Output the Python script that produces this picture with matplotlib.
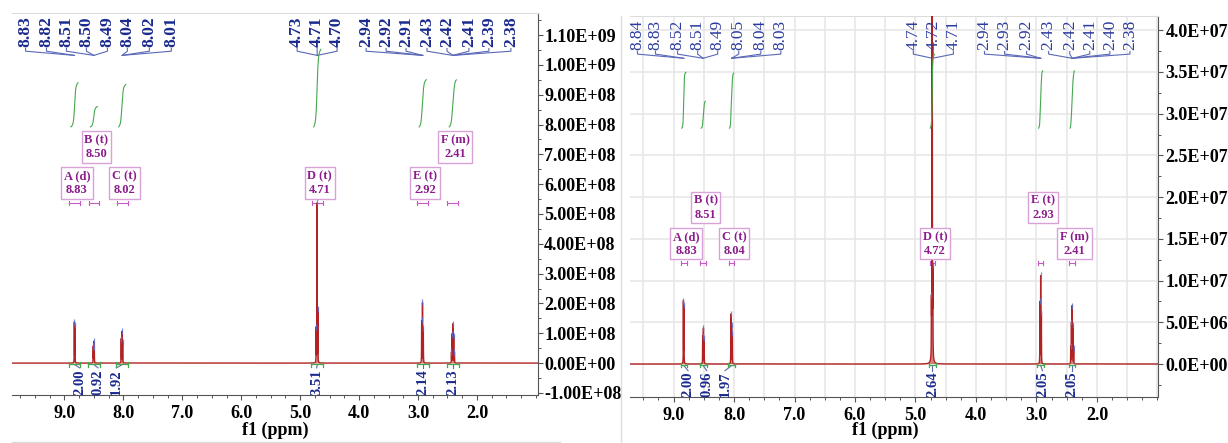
import numpy as np
import matplotlib
matplotlib.use('Agg')
import matplotlib.pyplot as plt
from matplotlib.lines import Line2D
from matplotlib.ticker import MultipleLocator, FuncFormatter
from matplotlib.transforms import blended_transform_factory

# ---------------- data ----------------
group_names = ['A', 'B', 'C', 'D', 'E', 'F']
group_mult = ['d', 't', 't', 't', 't', 'm']
x_ticks = [9.0, 8.0, 7.0, 6.0, 5.0, 4.0, 3.0, 2.0]

# left spectrum
left_centers = [8.83, 8.50, 8.02, 4.71, 2.92, 2.41]
left_center_labels = ['8.83', '8.50', '8.02', '4.71', '2.92', '2.41']
left_peak_ppm = [[8.832, 8.822], [8.511, 8.502, 8.493], [8.036, 8.024, 8.012],
                 [4.728, 4.714, 4.700], [2.938, 2.924, 2.910],
                 [2.432, 2.420, 2.410, 2.394, 2.382]]
left_peak_height = [[1.35e8, 1.25e8], [0.55e8, 0.70e8, 0.50e8], [0.80e8, 1.04e8, 0.70e8],
                    [1.15e8, 5.35e8, 1.75e8], [1.40e8, 2.00e8, 1.15e8],
                    [0.35e8, 0.95e8, 1.28e8, 0.90e8, 0.35e8]]
left_peak_labels = [['8.83', '8.82'], ['8.51', '8.50', '8.49'], ['8.04', '8.02', '8.01'],
                    ['4.73', '4.71', '4.70'], ['2.94', '2.92', '2.91'],
                    ['2.43', '2.42', '2.41', '2.39', '2.38']]
left_integrals = [2.00, 0.92, 1.92, 3.51, 2.14, 2.13]
left_yticks = [-1e8, 0, 1e8, 2e8, 3e8, 4e8, 5e8, 6e8, 7e8, 8e8, 9e8, 1e9, 1.1e9]

# right spectrum
right_centers = [8.83, 8.51, 8.04, 4.72, 2.93, 2.41]
right_center_labels = ['8.83', '8.51', '8.04', '4.72', '2.93', '2.41']
right_peak_ppm = [[8.837, 8.828], [8.518, 8.506, 8.494], [8.052, 8.040, 8.028],
                  [4.736, 4.724, 4.712], [2.942, 2.930, 2.918],
                  [2.432, 2.421, 2.410, 2.398, 2.384]]
right_peak_height = [[7.4e6, 6.8e6], [3.3e6, 4.2e6, 3.0e6], [5.9e6, 4.5e6, 3.6e6],
                     [5.6e6, 1.5e8, 9.2e6], [7.3e6, 10.4e6, 6.0e6],
                     [2.0e6, 4.8e6, 6.8e6, 4.5e6, 1.8e6]]
right_peak_labels = [['8.84', '8.83'], ['8.52', '8.51', '8.49'], ['8.05', '8.04', '8.03'],
                     ['4.74', '4.72', '4.71'], ['2.94', '2.93', '2.92'],
                     ['2.43', '2.42', '2.41', '2.40', '2.38']]
right_integrals = [2.00, 0.96, 1.97, 2.64, 2.05, 2.05]
right_yticks = [0, 5e6, 1e7, 1.5e7, 2e7, 2.5e7, 3e7, 3.5e7, 4e7]

# ---------------- layout (positions only) ----------------
left_label_x = [[9.66, 9.305], [8.966, 8.627, 8.271], [7.932, 7.559, 7.186],
                [5.051, 4.712, 4.373], [3.881, 3.542, 3.203],
                [2.847, 2.508, 2.136, 1.797, 1.424]]
right_label_x = [[9.597, 9.299], [8.934, 8.602, 8.270], [7.922, 7.557, 7.226],
                 [5.036, 4.705, 4.373], [3.859, 3.527, 3.163],
                 [2.798, 2.449, 2.118, 1.786, 1.454]]
left_int_label_x = [8.74, 8.43, 8.12, 4.72, 2.92, 2.41]
right_int_label_x = [8.76, 8.45, 8.15, 4.72, 2.90, 2.41]
left_box_level = [0, 1, 0, 0, 0, 1]
right_box_level = [0, 1, 0, 0, 1, 0]

W, H = 1228, 443
SERIF = ['Liberation Serif', 'DejaVu Serif']
plt.rcParams['font.family'] = SERIF
plt.rcParams['font.weight'] = 'bold'
plt.rcParams['axes.labelweight'] = 'bold'

RED = '#b22222'
NAVY = '#1b2a8e'
LINKC = '#5a68b8'
GREEN = '#46a84e'
PURPLE = '#8b1c8b'
BOXEC = '#d8a2d8'
SPINE = '#555555'
LIGHT = '#dcdcdc'


def lorentz_sum(x, ppms, hs, w):
    y = np.zeros_like(x, dtype=float)
    for p, h in zip(ppms, hs):
        y += h * w ** 2 / ((x - p) ** 2 + w ** 2)
    return y


def px_rect(x0, y0, x1, y1):
    return [x0 / W, 1 - y1 / H, (x1 - x0) / W, (y1 - y0) / H]


fig = plt.figure(figsize=(W / 100, H / 100), dpi=100)

panels = [
    dict(rect=px_rect(12, 13, 538, 395), xlim=(9.89, 0.964), ylim=(-1.07e8, 1.174e9),
         centers=left_centers, clabels=left_center_labels, ppm=left_peak_ppm,
         hgt=left_peak_height, plabels=left_peak_labels, integ=left_integrals,
         yticks=left_yticks, yminor=5e7, fmt='{:.2E}', label_x=left_label_x,
         int_x=left_int_label_x, box_level=left_box_level,
         box_y=(0.555, 0.649), mark_y=0.503, mark_hw=0.09, brk_hw=0.10,
         int_base=7.92e8, int_scale=0.74e8, int_w=0.012, int_span=0.06,
         top_weight='bold', top_color=NAVY, grid=False, ypad=1.0,
         xlabel_xy=(0.5, -0.0707), int_top=0.068),
    dict(rect=px_rect(630, 16, 1158, 397), xlim=(9.72, 0.99), ylim=(-3.95e6, 4.17e7),
         centers=right_centers, clabels=right_center_labels, ppm=right_peak_ppm,
         hgt=right_peak_height, plabels=right_peak_labels, integ=right_integrals,
         yticks=right_yticks, yminor=2.5e6, fmt='{:.1E}', label_x=right_label_x,
         int_x=right_int_label_x, box_level=right_box_level,
         box_y=(0.402, 0.497), mark_y=0.352, mark_hw=0.045, brk_hw=0.055,
         int_base=2.826e7, int_scale=3.35e6, int_w=0.004, int_span=0.035,
         top_weight='normal', top_color='#2b3b9e', grid=True, ypad=2.0,
         xlabel_xy=(0.484, -0.0656), int_top=0.066),
]

xgrid = np.linspace(0.9, 10.0, 45001)

for P in panels:
    ax = fig.add_axes(P['rect'])
    ax.set_xlim(*P['xlim'])
    ax.set_ylim(*P['ylim'])
    tr = blended_transform_factory(ax.transData, ax.transAxes)
    y0, y1 = P['ylim']
    f0 = (0 - y0) / (y1 - y0)

    all_ppm = [p for g in P['ppm'] for p in g]
    all_h = [h for g in P['hgt'] for h in g]

    if P['grid']:
        for gx in np.arange(1.0, 10.0, 0.5):
            ax.axvline(gx, color='#e6e6e6', lw=1.1, zorder=0)
        for gy in P['yticks']:
            ax.axhline(gy, color='#e6e6e6', lw=1.1, zorder=0)

    # spectrum
    spec = lorentz_sum(xgrid, all_ppm, all_h, 0.0016)
    ax.fill_between(xgrid, 0, spec, color=RED, alpha=0.55, lw=0, zorder=2)
    ax.plot(xgrid, spec, color=RED, lw=1.0, zorder=3)
    tops = lorentz_sum(np.array(all_ppm), all_ppm, all_h, 0.0016)
    ax.plot(all_ppm, tops, ls='none', marker='|', ms=4, mew=0.9,
            color='#5b6fd6', alpha=0.8, zorder=4)

    for gi, c in enumerate(P['centers']):
        # peak labels with connectors
        for lx, lab in zip(P['label_x'][gi], P['plabels'][gi]):
            ax.text(lx, 0.910, lab, transform=tr, rotation=90, ha='center',
                    va='bottom', fontsize=12.5, fontweight=P['top_weight'],
                    color=P['top_color'])
            ax.add_line(Line2D([lx, lx, c], [0.907, 0.9, 0.889], transform=tr,
                               color=LINKC, lw=0.8))
        # integral curve
        xs = np.linspace(c + P['int_span'], c - P['int_span'], 400)
        dens = lorentz_sum(xs, P['ppm'][gi], P['hgt'][gi], P['int_w'])
        cum = np.cumsum(dens)
        cum = cum / cum[-1]
        ax.plot(xs, P['int_base'] + cum * P['integ'][gi] * P['int_scale'],
                color=GREEN, lw=0.8, zorder=4)
        # multiplet box
        by = P['box_y'][P['box_level'][gi]]
        ax.text(c - 0.04, by, f"{group_names[gi]} ({group_mult[gi]})\n{P['clabels'][gi]}",
                transform=tr, ha='center', va='center', fontsize=9,
                fontweight='bold', color=PURPLE, linespacing=1.2, zorder=6,
                bbox=dict(boxstyle='square,pad=0.22', fc='white', ec=BOXEC, lw=1.0))
        # range marker
        hw = P['mark_hw']
        ax.add_line(Line2D([c + hw, c - hw], [P['mark_y']] * 2, transform=tr,
                           color='#c45ac4', lw=0.8))
        for ex in (c + hw, c - hw):
            ax.add_line(Line2D([ex, ex], [P['mark_y'] - 0.005, P['mark_y'] + 0.005],
                               transform=tr, color='#c45ac4', lw=0.8))
        # integration bracket at baseline
        bw = P['brk_hw']
        ax.add_line(Line2D([c + bw, c - bw], [f0 - 0.003] * 2, transform=tr,
                           color=GREEN, lw=0.9, zorder=5))
        for ex in (c + bw, c - bw):
            ax.add_line(Line2D([ex, ex], [f0 - 0.009, f0 + 0.003], transform=tr,
                               color=GREEN, lw=0.9, zorder=5))
        ix = P['int_x'][gi]
        ax.add_line(Line2D([c, ix], [f0 - 0.004, P['int_top'] + 0.003], transform=tr,
                           color=LINKC, lw=0.8))
        ax.text(ix, P['int_top'], f"{P['integ'][gi]:.2f}", transform=tr, rotation=90,
                ha='center', va='top', fontsize=10.5, fontweight='bold', color=NAVY)

    # axes styling
    ax.spines['left'].set_visible(False)
    ax.spines['top'].set_color(LIGHT)
    ax.spines['right'].set_color(SPINE)
    ax.spines['bottom'].set_color(SPINE)
    ax.yaxis.tick_right()
    ax.set_yticks(P['yticks'])
    ax.yaxis.set_minor_locator(MultipleLocator(P['yminor']))
    fmt = P['fmt']
    ax.yaxis.set_major_formatter(FuncFormatter(lambda v, pos, fmt=fmt: fmt.format(v)))
    ax.set_xticks(x_ticks)
    ax.set_xticklabels([f'{t:.1f}' for t in x_ticks])
    ax.xaxis.set_minor_locator(MultipleLocator(0.25))
    ax.tick_params(axis='both', which='major', direction='out', length=3.5,
                   width=0.8, color=SPINE, labelsize=13)
    ax.tick_params(axis='both', which='minor', direction='out', length=2.5,
                   width=0.7, color=SPINE)
    ax.tick_params(axis='y', which='major', pad=P['ypad'])
    ax.tick_params(axis='x', which='major', pad=4)
    ax.set_xlabel('f1 (ppm)', fontsize=13, fontweight='bold')
    ax.xaxis.set_label_coords(*P['xlabel_xy'])

# frame lines of the two images
fig.add_artist(Line2D([621 / W, 621 / W], [1 - 16 / H, 0], color=LIGHT, lw=1))
fig.add_artist(Line2D([12 / W, 560 / W], [1 - 442 / H] * 2, color=LIGHT, lw=1))

fig.savefig('out.png', dpi=100)
